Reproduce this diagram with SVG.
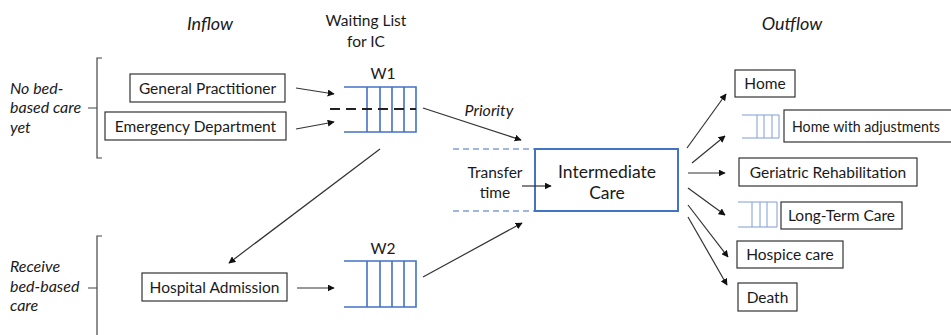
<svg xmlns="http://www.w3.org/2000/svg" width="951" height="335" viewBox="0 0 951 335">
  <style>
    text { font-family: Lato, "Liberation Sans", sans-serif; fill: #1a1a1a; font-size: 15.5px; }
    .c { text-anchor: middle; }
    .it { font-style: italic; font-size: 16px; }
    .title { font-size: 18px; font-style: italic; text-anchor: middle; }
    .big { font-size: 17.5px; }
    .box { fill: #fff; stroke: #333; stroke-width: 1.2; }
    .ic { fill: #fff; stroke: #4472C4; stroke-width: 2; }
    .q { fill: none; stroke: #4472C4; stroke-width: 1.6; }
    .qs { fill: none; stroke: #7f9ed6; stroke-width: 1; }
    .arr { stroke: #333; stroke-width: 1.2; fill: none; marker-end: url(#ah); }
    .brace { fill: none; stroke: #444; stroke-width: 1.2; }
  </style>
  <defs>
    <marker id="ah" viewBox="0 0 10 10" refX="9" refY="5" markerWidth="7" markerHeight="7" markerUnits="userSpaceOnUse" orient="auto">
      <path d="M0,0 L10,5 L0,10 z" fill="#111"/>
    </marker>
  </defs>

  <rect width="951" height="335" fill="#fff"/>

  <!-- column headings -->
  <text class="title" x="210" y="30">Inflow</text>
  <text class="c" x="366" y="26">Waiting List</text>
  <text class="c" x="366" y="47">for IC</text>
  <text class="title" x="792" y="30">Outflow</text>

  <!-- patient groups -->
  <g id="group-no-bed">
    <path class="brace" d="M102,58 H97 V158 H102 M97,108 H88"/>
    <text class="it" x="10" y="94">No bed-</text>
    <text class="it" x="10" y="113">based care</text>
    <text class="it" x="10" y="133">yet</text>
  </g>
  <g id="group-bed">
    <path class="brace" d="M102,236 H97 V340 M97,288 H88"/>
    <text class="it" x="10" y="272">Receive</text>
    <text class="it" x="10" y="292">bed-based</text>
    <text class="it" x="10" y="311">care</text>
  </g>

  <!-- inflow sources -->
  <g id="gp">
    <rect class="box" x="130" y="74" width="155" height="28"/>
    <text class="c" x="207.5" y="93.5">General Practitioner</text>
  </g>
  <g id="ed">
    <rect class="box" x="105" y="112" width="181" height="28"/>
    <text class="c" x="195.5" y="131.5">Emergency Department</text>
  </g>
  <g id="hospital">
    <rect class="box" x="142" y="273" width="145" height="28"/>
    <text class="c" x="214.5" y="292.5">Hospital Admission</text>
  </g>

  <!-- waiting queues -->
  <g id="w1">
    <text class="c" x="383" y="79">W1</text>
    <path class="q" d="M344,87 H416 V132 H344 M367,87 V132 M380,87 V132 M392,87 V132 M404,87 V132"/>
    <path d="M330,109 H416" stroke="#222" stroke-width="2" stroke-dasharray="10,6" fill="none"/>
  </g>
  <g id="w2">
    <text class="c" x="383" y="254">W2</text>
    <path class="q" d="M344,261 H416 V307 H344 M367,261 V307 M380,261 V307 M392,261 V307 M404,261 V307"/>
  </g>

  <!-- intermediate care -->
  <g id="intermediate-care">
    <path d="M453,149 H535 M453,211 H535" stroke="#7f9ed6" stroke-width="1.3" stroke-dasharray="6,4" fill="none"/>
    <rect class="ic" x="535" y="149" width="143" height="62"/>
    <text class="c big" x="607" y="178">Intermediate</text>
    <text class="c big" x="607" y="199">Care</text>
    <text class="c" x="495" y="178">Transfer</text>
    <text class="c" x="495" y="198">time</text>
  </g>

  <!-- outflow destinations -->
  <g id="home">
    <rect class="box" x="735" y="70" width="60" height="27"/>
    <text class="c" x="765" y="88.5">Home</text>
  </g>
  <g id="home-adjusted">
    <path class="qs" d="M742,115 H779 V138 H742 M757,115 V138 M764,115 V138 M772,115 V138"/>
    <rect class="box" x="784" y="110" width="180" height="32"/>
    <text x="792" y="131.5" textLength="148" lengthAdjust="spacingAndGlyphs">Home with adjustments</text>
  </g>
  <g id="geriatric">
    <rect class="box" x="739" y="158" width="178" height="28"/>
    <text class="c" x="828" y="177.5">Geriatric Rehabilitation</text>
  </g>
  <g id="long-term">
    <path class="qs" d="M738,202 H777 V227 H738 M752,202 V227 M760,202 V227 M767,202 V227"/>
    <rect class="box" x="781" y="202" width="121" height="27"/>
    <text class="c" x="841.5" y="220.5">Long-Term Care</text>
  </g>
  <g id="hospice">
    <rect class="box" x="737" y="241" width="106" height="27"/>
    <text class="c" x="790" y="259.5">Hospice care</text>
  </g>
  <g id="death">
    <rect class="box" x="738" y="283" width="59" height="28"/>
    <text class="c" x="767.5" y="302.5">Death</text>
  </g>

  <!-- connectors -->
  <g id="connectors">
    <line class="arr" x1="296" y1="88" x2="334" y2="94"/>
    <line class="arr" x1="296" y1="129" x2="334" y2="122"/>
    <line class="arr" x1="423" y1="108" x2="521" y2="140"/>
    <text class="it" x="489" y="116" text-anchor="middle">Priority</text>
    <line class="arr" x1="380" y1="149" x2="229" y2="263"/>
    <line class="arr" x1="297" y1="288" x2="334" y2="288"/>
    <line class="arr" x1="423" y1="277" x2="522" y2="223"/>
    <line class="arr" x1="522" y1="186" x2="551" y2="186"/>
    <line class="arr" x1="687" y1="148" x2="726" y2="94"/>
    <line class="arr" x1="692" y1="163" x2="725" y2="136"/>
    <line class="arr" x1="688" y1="173" x2="725" y2="173"/>
    <line class="arr" x1="688" y1="188" x2="725" y2="215"/>
    <line class="arr" x1="688" y1="205" x2="728" y2="257"/>
    <line class="arr" x1="688" y1="217" x2="727" y2="285"/>
  </g>
</svg>
